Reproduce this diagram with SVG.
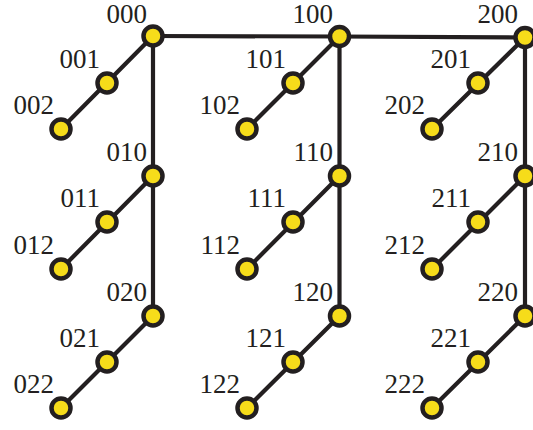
<svg xmlns="http://www.w3.org/2000/svg" width="533" height="430" viewBox="0 0 533 430">
<style>
.e{stroke:#231f20;stroke-width:4.2;fill:none;stroke-linecap:round}
.n circle{fill:#f6dc1a;stroke:#231f20;stroke-width:4.5}
.n text{font-family:"Liberation Serif","Times New Roman",serif;font-size:27px;fill:#231f20;text-anchor:end}
</style>
<rect width="533" height="430" fill="#fff"/>
<g id="connectors">
<path class="e" d="M153,36 L339.5,36.5 L525,37.5"/>
<path class="e" d="M153,36 V316 M339.5,36.5 V316 M525,37.5 V316"/>
<path class="e" d="M153,36 L61,129 M339.5,36.5 L247,129 M525,37.5 L432,129"/>
<path class="e" d="M153,176 L61,269 M339.5,176 L247,269 M525,176 L432,269"/>
<path class="e" d="M153,316 L61,408 M339.5,316 L247,408 M525,316 L432,408"/>
</g>
<g id="n000" class="n"><circle cx="153" cy="36" r="9.5"/><text x="147" y="23">000</text></g>
<g id="n001" class="n"><circle cx="107" cy="83" r="9.5"/><text x="100" y="68">001</text></g>
<g id="n002" class="n"><circle cx="61" cy="129" r="9.5"/><text x="54" y="114">002</text></g>
<g id="n010" class="n"><circle cx="153" cy="176" r="9.5"/><text x="147" y="161">010</text></g>
<g id="n011" class="n"><circle cx="107" cy="222" r="9.5"/><text x="100" y="207">011</text></g>
<g id="n012" class="n"><circle cx="61" cy="269" r="9.5"/><text x="54" y="254">012</text></g>
<g id="n020" class="n"><circle cx="153" cy="316" r="9.5"/><text x="147" y="301">020</text></g>
<g id="n021" class="n"><circle cx="107" cy="362" r="9.5"/><text x="100" y="347">021</text></g>
<g id="n022" class="n"><circle cx="61" cy="408" r="9.5"/><text x="54" y="393">022</text></g>
<g id="n100" class="n"><circle cx="339.5" cy="36.5" r="9.5"/><text x="333" y="23">100</text></g>
<g id="n101" class="n"><circle cx="293" cy="83" r="9.5"/><text x="286" y="68">101</text></g>
<g id="n102" class="n"><circle cx="247" cy="129" r="9.5"/><text x="240" y="114">102</text></g>
<g id="n110" class="n"><circle cx="339.5" cy="176" r="9.5"/><text x="333" y="161">110</text></g>
<g id="n111" class="n"><circle cx="293" cy="222" r="9.5"/><text x="286" y="207">111</text></g>
<g id="n112" class="n"><circle cx="247" cy="269" r="9.5"/><text x="240" y="254">112</text></g>
<g id="n120" class="n"><circle cx="339.5" cy="316" r="9.5"/><text x="333" y="301">120</text></g>
<g id="n121" class="n"><circle cx="293" cy="362" r="9.5"/><text x="286" y="347">121</text></g>
<g id="n122" class="n"><circle cx="247" cy="408" r="9.5"/><text x="240" y="393">122</text></g>
<g id="n200" class="n"><circle cx="525" cy="37.5" r="9.5"/><text x="518" y="23">200</text></g>
<g id="n201" class="n"><circle cx="478" cy="83" r="9.5"/><text x="471" y="68">201</text></g>
<g id="n202" class="n"><circle cx="432" cy="129" r="9.5"/><text x="425" y="114">202</text></g>
<g id="n210" class="n"><circle cx="525" cy="176" r="9.5"/><text x="518" y="161">210</text></g>
<g id="n211" class="n"><circle cx="478" cy="222" r="9.5"/><text x="471" y="207">211</text></g>
<g id="n212" class="n"><circle cx="432" cy="269" r="9.5"/><text x="425" y="254">212</text></g>
<g id="n220" class="n"><circle cx="525" cy="316" r="9.5"/><text x="518" y="301">220</text></g>
<g id="n221" class="n"><circle cx="478" cy="362" r="9.5"/><text x="471" y="347">221</text></g>
<g id="n222" class="n"><circle cx="432" cy="408" r="9.5"/><text x="425" y="393">222</text></g>
</svg>
